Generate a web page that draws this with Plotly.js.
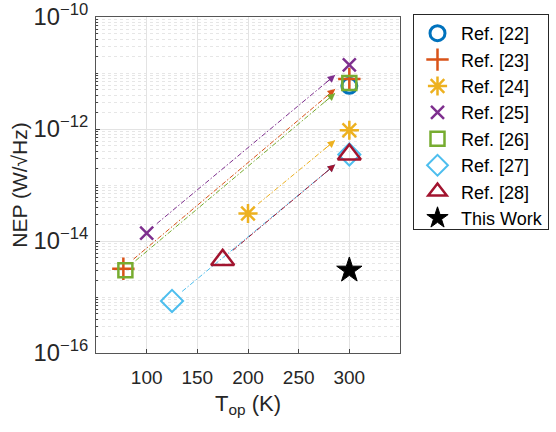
<!DOCTYPE html>
<html>
<head>
<meta charset="utf-8">
<script src="https://cdn.plot.ly/plotly-3.0.1.min.js"></script>
<style>html,body{margin:0;padding:0;background:#fff;}#chart{width:556px;height:432px;}</style>
</head>
<body>
<div id="chart"></div>
<script>
// Reference names
const refNames = ["Ref. [22]", "Ref. [23]", "Ref. [24]", "Ref. [25]", "Ref. [26]", "Ref. [27]", "Ref. [28]", "This Work"];
// Operating temperature (K) of each point per reference
const refTemps = [
  [300],
  [77, 300],
  [200, 300],
  [100, 300],
  [79, 300],
  [125, 300],
  [175, 300],
  [300]
];
// NEP (W/sqrt(Hz)) per reference
const refNEP = [
  [5.9e-12],
  [3.2e-15, 7.8e-12],
  [3.1e-14, 9.5e-13],
  [1.38e-14, 1.39e-11],
  [3.0e-15, 6.6e-12],
  [8.5e-16, 3.5e-13],
  [4.6e-15, 3.5e-13],
  [3.0e-15]
];
const xTicks = [100, 150, 200, 250, 300];

// styles
const colors = ["#0072BD", "#D95319", "#EDB120", "#7E2F8E", "#77AC30", "#4DBEEE", "#A2142F", "#000000"];
const symbols = ["circle-open", "cross-thin-open", "asterisk-open", "x-thin-open", "square-open", "diamond-open", "triangle-up-open", "star"];
const sizes = [15, 16, 16, 13, 14, 17, 20, 19];
const widths = [3, 2.5, 2.5, 2.5, 2.5, 2, 2.5, 1];

const traces = [];
const annotations = [];
const startOff = [10, 0.17];   // shift of arrow tail from low point (K, decades)
const endOff = [-14, -0.18];   // shift of arrow head from high point

refNames.forEach((name, i) => {
  const xs = refTemps[i], ys = refNEP[i];
  if (xs.length === 2) {
    const lx0 = Math.log10(ys[0]), lx1 = Math.log10(ys[1]);
    const sx = xs[0] + startOff[0], sy = lx0 + startOff[1];
    const ex = xs[1] + endOff[0], ey = lx1 + endOff[1];
    traces.push({
      x: [sx, ex], y: [Math.pow(10, sy), Math.pow(10, ey)],
      mode: "lines", showlegend: false, hoverinfo: "skip",
      line: {color: colors[i], width: 1, dash: "5px,2px,1.5px,2px"}
    });
    const slope = (ey - sy) / (ex - sx);
    annotations.push({
      x: ex, y: ey, ax: ex - 12, ay: ey - 12 * slope,
      xref: "x", yref: "y", axref: "x", ayref: "y",
      text: "", showarrow: true, arrowhead: 2, arrowsize: 1.5, arrowwidth: 1,
      arrowcolor: colors[i], standoff: 0, startstandoff: 0
    });
  }
});

refNames.forEach((name, i) => {
  traces.push({
    x: refTemps[i], y: refNEP[i], name: name, mode: "markers",
    marker: {
      symbol: symbols[i], size: sizes[i], color: colors[i],
      line: {color: colors[i], width: widths[i]}
    }
  });
});

const font = "Liberation Sans, Arial, sans-serif";
const layout = {
  width: 556, height: 432,
  margin: {l: 96, r: 156, t: 17, b: 79},
  paper_bgcolor: "#fff", plot_bgcolor: "#fff",
  font: {family: font, color: "#262626", size: 18},
  showlegend: true,
  legend: {
    xref: "container", yref: "container",
    x: 413 / 556, y: 1 - 14 / 432, xanchor: "left", yanchor: "top",
    bordercolor: "#262626", borderwidth: 1, bgcolor: "#fff",
    itemwidth: 37,
    font: {family: font, size: 18, color: "#000"}
  },
  xaxis: {
    range: [50, 350], tickvals: xTicks, ticks: "inside", ticklen: 4,
    showline: true, linecolor: "#555", linewidth: 1, mirror: true,
    showgrid: true, gridcolor: "#e3e3e3", zeroline: false, automargin: false,
    ticklabelstandoff: 7,
    tickfont: {size: 19, color: "#262626"},
    title: {text: "T<sub>op</sub> (K)", font: {size: 22, color: "#262626"}, standoff: 8}
  },
  yaxis: {
    type: "log", range: [-16, -10], dtick: 2, exponentformat: "power",
    ticks: "inside", ticklen: 4,
    showline: true, linecolor: "#555", linewidth: 1, mirror: true,
    showgrid: true, gridcolor: "#e3e3e3", zeroline: false, automargin: false,
    minor: {dtick: "D1", showgrid: true, gridcolor: "#e6e6e6", griddash: "dot", ticks: "inside", ticklen: 2},
    ticklabelstandoff: 3,
    tickfont: {size: 19, color: "#262626"},
    title: {text: "NEP (W/√Hz)", font: {size: 21, color: "#262626"}, standoff: 0}
  },
  annotations: annotations
};

Plotly.newPlot("chart", traces, layout, {displayModeBar: false, staticPlot: true});
</script>
</body>
</html>
